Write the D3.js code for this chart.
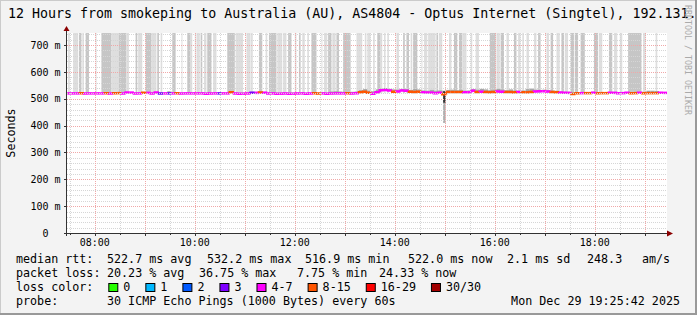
<!DOCTYPE html>
<html>
<head>
<meta charset="utf-8">
<script src="https://cdn.jsdelivr.net/npm/d3@7"></script>
<style>
body { margin: 0; background: #f3f3f3; }
svg { display: block; }
text { font-family: "DejaVu Sans Mono", monospace; white-space: pre; }
</style>
</head>
<body>
<script>
// --- data ---
const title = "12 Hours from smokeping to Australia (AU), AS4804 - Optus Internet (Singtel), 192.131.";
const viewStart = "07:26:40", viewEnd = "19:26:40";
const yMax = 745;
const yTicks = [0, 100, 200, 300, 400, 500, 600, 700];
const xTickLabels = ["08:00", "10:00", "12:00", "14:00", "16:00", "18:00"];

const lossLabels = ["0", "1", "2", "3", "4-7", "8-15", "16-29", "30/30"];
const lossColors = ["#26ff00", "#00b8ff", "#0059ff", "#7e00ff", "#ff00ff", "#ff5500", "#ff0000", "#a10000"];
const lossFloor  = [0, 1, 2, 3, 4, 8, 16, 30];

// tall smoke columns (pings going off the top), 1 = light, 2 = darker
const smokeFrom = ["07:28","07:34","07:41","07:45","07:49","08:01","08:08","08:20","08:29","08:38","08:49","08:52","09:01","09:08","09:15","09:19","09:33","09:44","09:51","09:55","10:00","10:02","10:07","10:11","10:15","10:22","10:39","10:49","11:02","11:08","11:17","11:25","11:29","11:39","11:46","11:52","12:00","12:05","12:09","12:15","12:20","12:32","12:35","12:40","12:45","12:50","12:58","13:14","13:24","13:27","13:34","13:39","13:43","13:47","13:51","14:02","14:10","14:14","14:19","14:22","14:32","14:35","14:40","14:50","14:53","15:05","15:11","15:17","15:21","15:31","15:37","15:54","16:02","16:07","16:14","16:23","16:28","16:33","16:38","16:47","16:52","17:02","17:07","17:14","17:20","17:24","17:31","17:36","17:43","17:59","18:05","18:17","18:23","18:30","18:40","18:58","19:13"];
const smokeTo   = ["07:30","07:40","07:44","07:47","07:53","08:02","08:20","08:29","08:38","08:41","08:51","08:57","09:08","09:14","09:17","09:21","09:37","09:45","09:55","09:57","10:01","10:06","10:09","10:14","10:20","10:26","10:48","10:58","11:07","11:09","11:21","11:27","11:38","11:45","11:50","11:56","12:02","12:07","12:12","12:17","12:26","12:33","12:39","12:44","12:49","12:53","13:07","13:21","13:26","13:31","13:36","13:43","13:45","13:49","13:53","14:05","14:12","14:17","14:21","14:27","14:33","14:39","14:49","14:52","14:57","15:08","15:15","15:21","15:26","15:33","15:41","16:01","16:06","16:11","16:17","16:26","16:31","16:35","16:41","16:50","16:55","17:05","17:10","17:18","17:23","17:28","17:35","17:40","17:48","18:04","18:09","18:21","18:27","18:33","18:56","19:01","19:15"];
const smokeShade = [1,1,2,1,2,1,2,1,2,1,2,1,2,1,2,1,2,1,2,1,1,1,2,1,2,1,2,1,1,2,2,1,2,1,1,2,1,2,1,1,2,1,1,2,1,2,2,1,1,1,1,2,1,1,1,1,2,2,1,2,1,1,1,2,1,1,2,2,1,1,1,2,1,2,1,2,1,1,1,1,2,1,2,1,2,1,2,2,2,2,1,2,1,1,2,1,1];

// 5 minute bins starting 07:27
const binStart = "07:27", binMinutes = 5;
const median = [
  520,520,520,521,520,520,520,520,520,521, 520,521,521,520,523,523,520,520,522,522,
  520,523,520,520,520,520,521,520,520,520, 520,520,520,519,520,520,520,520,520,524,
  520,519,519,520,522,522,523,522,520,520, 519,519,520,519,519,520,520,519,520,521,
  520,520,519,520,520,520,520,521,520,521, 524,526,522,519,524,532,533,531,526,527,
  531,530,526,525,526,524,523,523,521,522, 517,525,525,525,525,524,524,530,525,526,
  525,524,525,527,526,525,525,524,525,524, 524,525,527,528,528,527,525,524,523,522,
  522,518,521,521,521,521,522,521,521,521, 522,522,521,521,522,521,521,522,521,521,
  521,521,522,522];
const lost = [
  6,6,6,9,6,6,6,6,6,9, 6,10,9,6,6,6,6,6,9,6,
  6,6,3,6,3,6,9,6,6,6, 6,6,6,6,6,6,3,6,6,9,
  6,6,6,6,3,6,9,6,6,6, 6,6,6,6,6,6,6,6,6,9,
  9,6,6,6,6,6,6,9,6,6, 9,10,9,6,7,6,6,6,9,6,
  6,6,10,10,10,6,6,6,6,6, 11,10,10,10,10,6,6,6,9,6,
  10,10,10,6,6,9,9,9,6,10, 10,10,6,6,6,6,9,9,6,6,
  6,9,10,6,9,9,6,9,9,9, 6,6,6,6,6,10,10,6,9,9,
  9,9,6,6];
const smokeNear = [
  523,523,523,523,523,523,523,523,523,523, 523,523,523,523,523,523,523,523,523,523,
  523,523,523,523,528,523,523,523,523,523, 523,523,523,523,523,523,523,523,523,523,
  523,523,523,523,526,526,527,526,523,523, 523,523,523,523,523,523,523,523,523,523,
  523,523,523,527,528,527,526,524,526,527, 532,536,530,528,535,538,540,537,535,534,
  537,536,533,536,535,531,530,533,530,531, 530,533,534,532,533,530,531,536,534,537,
  535,532,533,537,534,532,535,531,530,531, 536,538,534,533,534,532,531,530,527,526,
  526,524,524,525,524,524,526,524,524,525, 525,526,525,524,525,524,524,525,526,530,
  530,529,525,524];

// the single deep dip just before 15:00
const dipFrom = ["14:58"], dipTo = ["15:01"], dipDarkLow = [485], dipLightLow = [410];

const legendRtt  = [["median rtt:", 16], ["522.7 ms avg", 107], ["532.2 ms max", 207], ["516.9 ms min", 305], ["522.0 ms now", 408], ["2.1 ms sd", 507], ["248.3", 587], ["am/s", 642]];
const legendLoss = [["packet loss:", 16], ["20.23 % avg", 107], ["36.75 % max", 199], ["7.75 % min", 297], ["24.33 % now", 379]];
const probeText = "30 ICMP Echo Pings (1000 Bytes) every 60s";
const stamp = "Mon Dec 29 19:25:42 2025";

// --- drawing ---
const W = 697, H = 315;
const L = 67, R = 667, T = 33, B = 233;
const parseHM = d3.timeParse("%H:%M"), parseHMS = d3.timeParse("%H:%M:%S");

const x = d3.scaleTime().domain([parseHMS(viewStart), parseHMS(viewEnd)]).range([L, R]);
const y = d3.scaleLinear().domain([0, yMax]).range([B, T]);

function lossColor(n) {
  let i = 0;
  lossFloor.forEach((f, j) => { if (n >= f) i = j; });
  return lossColors[i];
}

const svg = d3.select("body").append("svg").attr("width", W).attr("height", H);

svg.append("rect").attr("width", W).attr("height", H).attr("fill", "#f3f3f3");
// 3d frame
svg.append("path").attr("d", `M0,${H} V0 H${W}`).attr("fill", "none").attr("stroke", "#cbcbcb").attr("stroke-width", 2);
svg.append("path").attr("d", `M0,${H - 1} H${W - 1} V0`).attr("fill", "none").attr("stroke", "#999").attr("stroke-width", 2);

svg.append("defs").append("clipPath").attr("id", "plot")
  .append("rect").attr("x", L).attr("y", T).attr("width", R - L).attr("height", B - T);

svg.append("rect").attr("x", L).attr("y", T).attr("width", R - L).attr("height", B - T).attr("fill", "#fff");

const g = svg.append("g").attr("clip-path", "url(#plot)");

// smoke columns
g.selectAll(".smoke").data(smokeFrom).join("rect")
  .attr("x", (d, i) => x(parseHM(d)))
  .attr("width", (d, i) => Math.max(1, x(parseHM(smokeTo[i])) - x(parseHM(d))))
  .attr("y", y(yMax))
  .attr("height", y(521) - y(yMax))
  .attr("fill", (d, i) => smokeShade[i] == 2 ? "#c6c6c6" : "#dedede");

const t0 = parseHM(binStart);
const binX0 = i => x(d3.timeMinute.offset(t0, i * binMinutes));
const binX1 = i => x(d3.timeMinute.offset(t0, (i + 1) * binMinutes));

// dense smoke just around the median
g.selectAll(".near").data(smokeNear).join("rect")
  .attr("x", (d, i) => binX0(i))
  .attr("width", (d, i) => binX1(i) - binX0(i))
  .attr("y", d => y(d))
  .attr("height", (d, i) => Math.max(0, y(median[i]) - y(d)))
  .attr("fill", "#a8a8a8");

// dip
dipFrom.forEach((d, i) => {
  const x0 = x(parseHM(d)), x1 = x(parseHM(dipTo[i]));
  g.append("rect").attr("x", x0).attr("width", x1 - x0)
    .attr("y", y(dipDarkLow[i])).attr("height", y(dipLightLow[i]) - y(dipDarkLow[i]))
    .attr("fill", "#b0b0b0");
  g.append("rect").attr("x", x0).attr("width", x1 - x0)
    .attr("y", y(528)).attr("height", y(dipDarkLow[i]) - y(528))
    .attr("fill", "#333");
});

// grid
const gridG = svg.append("g").attr("shape-rendering", "crispEdges");
const minorY = d3.range(20, yMax, 20).filter(v => v % 100 != 0);
const majorY = yTicks.filter(v => v > 0);
gridG.selectAll(".gy").data(minorY).join("line")
  .attr("x1", L).attr("x2", R).attr("y1", d => Math.round(y(d)) + 0.5).attr("y2", d => Math.round(y(d)) + 0.5)
  .attr("stroke", "#d6d6d6").attr("stroke-dasharray", "1,1");
const timesAll = d3.timeMinute.every(30).range(x.domain()[0], x.domain()[1]);
const timesMinor = timesAll.filter(t => t.getMinutes() != 0);
const timesMajor = timesAll.filter(t => t.getMinutes() == 0);
gridG.selectAll(".gx").data(timesMinor).join("line")
  .attr("y1", T).attr("y2", B).attr("x1", d => Math.round(x(d)) + 0.5).attr("x2", d => Math.round(x(d)) + 0.5)
  .attr("stroke", "#d6d6d6").attr("stroke-dasharray", "1,1");
gridG.selectAll(".gY").data(majorY).join("line")
  .attr("x1", L).attr("x2", R).attr("y1", d => Math.round(y(d)) + 0.5).attr("y2", d => Math.round(y(d)) + 0.5)
  .attr("stroke", "#f0a8a8").attr("stroke-dasharray", "1,1");
gridG.selectAll(".gX").data(timesMajor).join("line")
  .attr("y1", T).attr("y2", B).attr("x1", d => Math.round(x(d)) + 0.5).attr("x2", d => Math.round(x(d)) + 0.5)
  .attr("stroke", "#f0a8a8").attr("stroke-dasharray", "1,1");

// median line coloured by loss
g.selectAll(".med").data(median).join("path")
  .attr("d", (d, i) => `M${binX0(i)},${y(i ? median[i - 1] : d)} V${y(d)} H${binX1(i)}`)
  .attr("fill", "none")
  .attr("stroke", (d, i) => lossColor(lost[i]))
  .attr("stroke-width", 2.5);

// axes
const axisCol = "#333", arrowCol = "#8b0000";
svg.append("line").attr("x1", L - 3).attr("x2", R).attr("y1", B + 0.5).attr("y2", B + 0.5).attr("stroke", axisCol);
svg.append("line").attr("x1", L - 0.5).attr("x2", L - 0.5).attr("y1", B + 3).attr("y2", T - 3).attr("stroke", axisCol);
svg.append("path").attr("d", `M${R},${B - 2.5} L${R + 6},${B + 0.5} L${R},${B + 3.5}Z`).attr("fill", arrowCol);
svg.append("path").attr("d", `M${L - 3.5},${T - 2} L${L - 0.5},${T - 7} L${L + 2.5},${T - 2}Z`).attr("fill", arrowCol);

// ticks
svg.selectAll(".ty").data(yTicks).join("line")
  .attr("x1", L - 3).attr("x2", L).attr("y1", d => Math.round(y(d)) + 0.5).attr("y2", d => Math.round(y(d)) + 0.5)
  .attr("stroke", axisCol);
svg.selectAll(".tx").data(timesAll).join("line")
  .attr("y1", B).attr("y2", d => B + (d.getMinutes() == 0 ? 3 : 2))
  .attr("x1", d => Math.round(x(d)) + 0.5).attr("x2", d => Math.round(x(d)) + 0.5)
  .attr("stroke", axisCol);

// tick labels
svg.selectAll(".ly").data(yTicks).join("text")
  .attr("x", d => d == 0 ? 48.5 : 60.5)
  .attr("y", d => y(d) + 3.6)
  .attr("text-anchor", "end")
  .attr("font-size", 10)
  .text(d => d == 0 ? "0" : d + " m");
svg.selectAll(".lx").data(xTickLabels).join("text")
  .attr("x", d => x(parseHM(d)))
  .attr("y", 246)
  .attr("text-anchor", "middle")
  .attr("font-size", 10)
  .text(d => d);

// title and side labels
svg.append("text").attr("x", 8).attr("y", 18).attr("font-size", 13.3).text(title);
svg.append("text").attr("transform", `translate(15,${(T + B) / 2}) rotate(-90)`)
  .attr("text-anchor", "middle").attr("font-size", 11.7).text("Seconds");
svg.append("text").attr("transform", "translate(685,5) rotate(90)")
  .attr("font-size", 8.3).attr("fill", "#aaa").text("RRDTOOL / TOBI OETIKER");

// legend
const fs = 11.7;
legendRtt.forEach(([s, px]) => svg.append("text").attr("x", px).attr("y", 263).attr("font-size", fs).text(s));
legendLoss.forEach(([s, px]) => svg.append("text").attr("x", px).attr("y", 277).attr("font-size", fs).text(s));
svg.append("text").attr("x", 16).attr("y", 291).attr("font-size", fs).text("loss color:");
let bx = 108.3;
lossLabels.forEach((lab, i) => {
  svg.append("rect").attr("x", bx + 0.5).attr("y", 283.5).attr("width", 9).attr("height", 8)
    .attr("fill", lossColors[i]).attr("stroke", "#000").attr("stroke-width", 1);
  const t = svg.append("text").attr("x", bx + 15).attr("y", 291).attr("font-size", fs).text(lab);
  bx = bx + 15 + t.node().getComputedTextLength() + 15;
});
svg.append("text").attr("x", 16).attr("y", 305).attr("font-size", fs).text("probe:");
svg.append("text").attr("x", 107).attr("y", 305).attr("font-size", fs).text(probeText);
svg.append("text").attr("x", 680).attr("y", 305).attr("text-anchor", "end").attr("font-size", fs).text(stamp);
</script>
</body>
</html>
